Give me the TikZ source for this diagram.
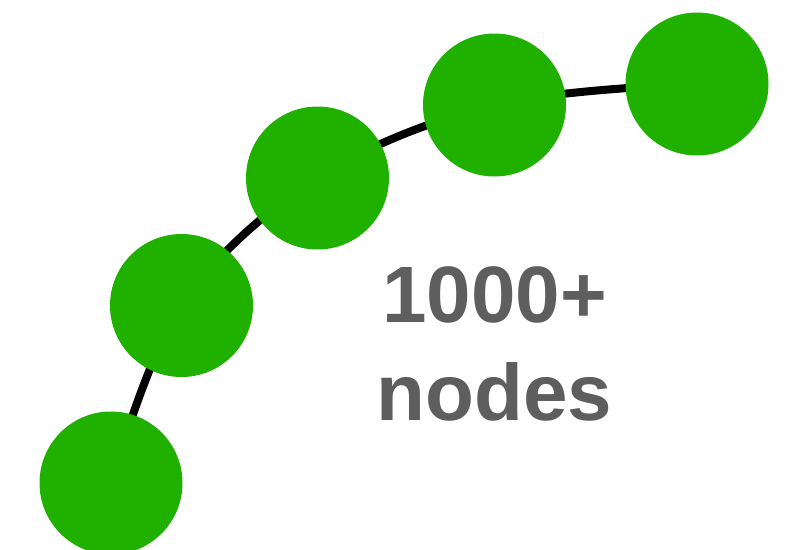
\documentclass[tikz,border=0pt]{standalone}
\usepackage{fontspec}
\setmainfont{Liberation Sans}
\usepackage{tikz}
\usetikzlibrary{backgrounds}
\definecolor{nodegreen}{RGB}{31,176,0}
\definecolor{labelgray}{RGB}{94,94,94}

\begin{document}
\begin{tikzpicture}[x=1pt,y=-1pt,
  dot/.style={circle, fill=nodegreen, minimum size=143pt, inner sep=0pt},
  link/.style={line width=8pt, black},
  bigtext/.style={anchor=base, text=labelgray, font=\fontsize{80}{98}\selectfont\bfseries, inner sep=0pt}]
  \useasboundingbox (0,0) rectangle (800,549);
  \node[dot] (n1) at (111,483) {};
  \node[dot] (n2) at (181.5,305.5) {};
  \node[dot] (n3) at (317.5,178) {};
  \node[dot] (n4) at (494.5,105) {};
  \node[dot] (n5) at (697,84) {};
  \begin{pgfonlayer}{background}
    \draw[link] plot[smooth, tension=0.6] coordinates {(n1) (n2) (n3) (n4) (n5)};
  \end{pgfonlayer}
  \node[bigtext] (count) at (494.5,322) {1000+};
  \node[bigtext] (word) at (494.5,420) {nodes};
\end{tikzpicture}
\end{document}
